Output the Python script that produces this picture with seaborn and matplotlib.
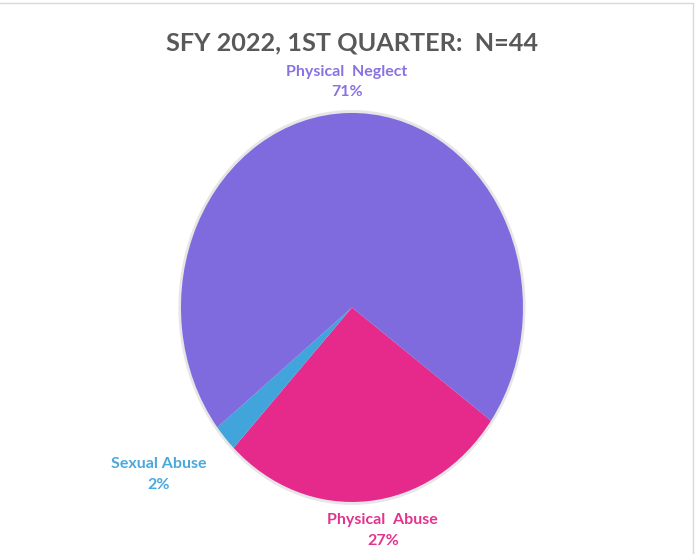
import matplotlib
matplotlib.use('Agg')
import matplotlib.pyplot as plt
import seaborn as sns
from matplotlib.lines import Line2D

# data, N=44
categories = ['Physical  Abuse', 'Sexual Abuse', 'Physical  Neglect']
counts = [12, 1, 31]
pct_labels = ['27%', '2%', '71%']
slice_colors = ['#E52A8C', '#41A5DC', '#7F6BDD']
label_colors = ['#E2348F', '#4BA8DD', '#8B72E2']
title = 'SFY 2022, 1ST QUARTER:  N=44'

sns.set_theme(style='white')
plt.rcParams['font.family'] = ['Lato', 'DejaVu Sans']

fig = plt.figure(figsize=(6.96, 5.54), dpi=100)
ax = fig.add_axes([0.2551, 0.0869, 0.5012, 0.7162])

# faint grey halo behind the pie
ax.pie([1], colors=['#e6e6e6'], radius=1.015, startangle=90,
       wedgeprops={'linewidth': 0})
ax.pie(counts, colors=slice_colors, startangle=-35.6, counterclock=False,
       wedgeprops={'linewidth': 0})
ax.set_aspect('auto')
ax.set_xlim(-1.02, 1.02)
ax.set_ylim(-1.02, 1.02)
ax.axis('off')

fig.text(0.506, 0.922, title, ha='center', va='center', fontsize=18.2,
         fontweight='bold', color='#595959')

label_pos = [(0.550, 0.0424), (0.2285, 0.1435), (0.498, 0.852)]
for cat, pct, col, (x, y) in zip(categories, pct_labels, label_colors, label_pos):
    fig.text(x, y, cat + '\n' + pct, ha='center', va='center',
             fontsize=11.5, fontweight='bold', color=col, linespacing=1.55)

# thin frame lines at top and right
fig.add_artist(Line2D([0, 0.995], [0.994, 0.994], transform=fig.transFigure,
                      color='#d9d9d9', lw=1))
fig.add_artist(Line2D([0.995, 0.995], [0, 0.994], transform=fig.transFigure,
                      color='#d9d9d9', lw=1))

fig.savefig('out.png', dpi=100)
